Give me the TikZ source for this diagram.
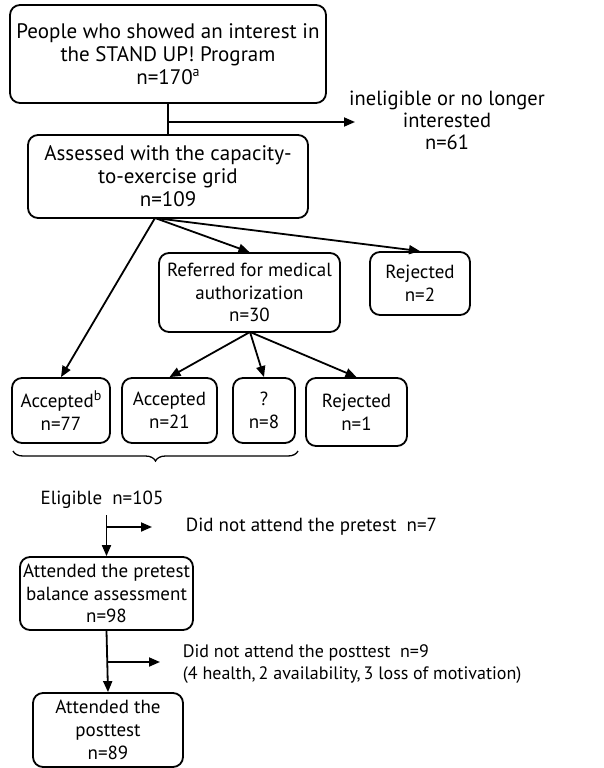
\documentclass[tikz,border=0pt]{standalone}
\usepackage{fontspec}
\setmainfont{PT Sans}
\usetikzlibrary{arrows.meta,positioning,decorations.pathreplacing}
\newcommand{\fnmark}[1]{\raisebox{0.38em}{\fontsize{14}{14}\selectfont #1}}

\begin{document}
\begin{tikzpicture}[x=1pt,y=-1pt,>={Triangle[length=11pt,width=9pt]},line width=1.8pt,
  box/.style={draw,rounded corners=10pt,align=center,inner sep=0pt,font=\fontsize{19}{22.8}\selectfont},
  bigbox/.style={box,font=\fontsize{21}{23}\selectfont},
  lbl/.style={align=center,inner sep=0pt,font=\fontsize{19}{22.8}\selectfont}]
\useasboundingbox (0,0) rectangle (604,768);
% top part
\node[bigbox,minimum width=316pt,minimum height=98pt] (interest) at (168,54)
  {People who showed an interest in\\the STAND UP! Program\\n=170\fnmark{a}};
\node[bigbox,minimum width=280pt,minimum height=83pt] (grid) at (168,176.5)
  {Assessed with the capacity-\\to-exercise grid\\n=109};
\node[lbl,font=\fontsize{20.5}{22}\selectfont] (inelig) at (447,120) {ineligible or no longer\\interested\\n=61};
\draw (interest) -- (grid);
\coordinate (split1) at (168,122);
\coordinate (end1) at (355,122);
\draw[->] (split1) -- (end1);
% second level
\node[box,minimum width=181pt,minimum height=79pt] (referred) at (249.5,292.5)
  {Referred for medical\\authorization\\n=30};
\node[box,minimum width=100pt,minimum height=63pt] (rej2) at (420,283.5) {Rejected\\n=2};
\node[box,minimum width=98pt,minimum height=65pt] (acc77) at (61,410.5) {Accepted\fnmark{b}\\n=77};
\node[box,minimum width=95pt,minimum height=65pt] (acc21) at (169.5,410.5) {Accepted\\n=21};
\node[box,minimum width=62pt,minimum height=65pt] (unk) at (264,410.5) {?\\n=8};
\node[box,minimum width=101pt,minimum height=68pt] (rej1) at (356.5,412) {Rejected\\n=1};
\coordinate (fan) at (155,218);
\draw[->] (fan) -- (acc77.north);
\draw[->] (fan) -- (referred.north);
\draw[->] (fan) -- (rej2.north);
\coordinate (fan2) at (250,332);
\draw[->] (fan2) -- (acc21.north);
\draw[->] (fan2) -- (unk.north);
\draw[->] (fan2) -- (rej1.north);
\draw[line width=1.3pt,decorate,decoration={brace,mirror,amplitude=10pt}] (13,451) -- (298,451);
% bottom part
\node[lbl] (elig) at (102,500) {Eligible\ \ n=105};
\node[box,minimum width=173pt,minimum height=73pt] (pretest) at (106.5,593.5)
  {Attended the pretest\\balance assessment\\n=98};
\node[box,minimum width=150pt,minimum height=74pt] (posttest) at (108,730)
  {Attended the\\posttest\\n=89};
\node[lbl,anchor=west] (nopre) at (185,527) {Did not attend the pretest\ \ n=7};
\node[lbl,anchor=west,align=left,font=\fontsize{18}{22.8}\selectfont] (nopost) at (182,664)
  {Did not attend the posttest\ \ n=9\\(4 health,\,2 availability,\,3 loss of motivation)};
\coordinate (top2) at (106.5,515);
\draw[->] (top2) -- (pretest.north);
\coordinate (split2) at (106.5,527);
\coordinate (end2) at (152,527);
\draw[->] (split2) -- (end2);
\draw[->] (pretest.south) -- (posttest.north);
\coordinate (split3) at (107,662);
\coordinate (end3) at (160,662);
\draw[->] (split3) -- (end3);
\end{tikzpicture}
\end{document}
